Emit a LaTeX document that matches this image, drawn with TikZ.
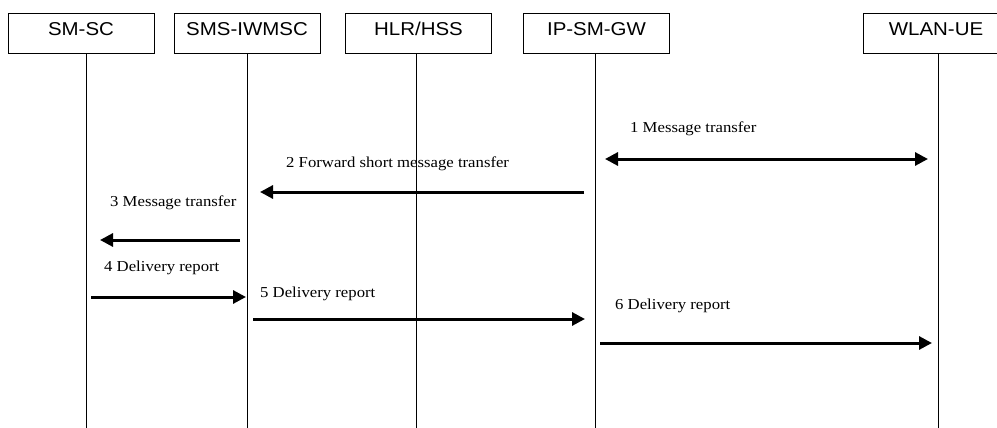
\documentclass[tikz,border=0pt]{standalone}
\usepackage{fontspec}
\newfontfamily\boxfont[FakeStretch=1.1]{Liberation Sans}
\newfontfamily\msgfont[FakeStretch=1.1]{Liberation Serif}
\usetikzlibrary{arrows.meta}

\begin{document}
\begin{tikzpicture}[x=1pt, y=-1pt, >={Triangle[length=13pt,width=13pt]},
        entity/.style={draw, line width=1pt, minimum width=146pt, minimum height=40pt, inner sep=0pt,
            text height=13.5pt, text depth=9.5pt, font=\boxfont\fontsize{18.6}{20}\selectfont},
        life/.style={line width=1pt},
        msg/.style={line width=3pt},
        note/.style={anchor=base west, inner sep=0pt, font=\msgfont\fontsize{15.2}{17}\selectfont}]
        \useasboundingbox (0,0) rectangle (997,428);

        \node[entity] (smsc) at (81,34) {SM-SC};
        \node[entity] (iwmsc) at (247,34) {SMS-IWMSC};
        \node[entity] (hlr) at (418.5,34) {HLR/HSS};
        \node[entity] (gw) at (596.5,34) {IP-SM-GW};
        \node[entity] (ue) at (936,34) {WLAN-UE};

        \coordinate (smsc-end) at (86,428);
        \coordinate (iwmsc-end) at (247,428);
        \coordinate (hlr-end) at (416,428);
        \coordinate (gw-end) at (595,428);
        \coordinate (ue-end) at (938,428);
        \draw[life] (smsc.south -| smsc-end) -- (smsc-end);
        \draw[life] (iwmsc.south -| iwmsc-end) -- (iwmsc-end);
        \draw[life] (hlr.south -| hlr-end) -- (hlr-end);
        \draw[life] (gw.south -| gw-end) -- (gw-end);
        \draw[life] (ue.south -| ue-end) -- (ue-end);

        \coordinate (m1a) at (605,159);
        \coordinate (m1b) at (928,159);
        \coordinate (m2a) at (584,192);
        \coordinate (m2b) at (260,192);
        \coordinate (m3a) at (240,240);
        \coordinate (m3b) at (100,240);
        \coordinate (m4a) at (91,297);
        \coordinate (m4b) at (246,297);
        \coordinate (m5a) at (253,319);
        \coordinate (m5b) at (585,319);
        \coordinate (m6a) at (600,343);
        \coordinate (m6b) at (932,343);

        \node[note] (t1) at (630,132) {1 Message transfer};
        \node[note] (t2) at (286,167) {2 Forward short message transfer};
        \node[note] (t3) at (110,206) {3 Message transfer};
        \node[note] (t4) at (104,271) {4 Delivery report};
        \node[note] (t5) at (260,297) {5 Delivery report};
        \node[note] (t6) at (615,309) {6 Delivery report};

        \draw[msg, <->] (m1a) -- (m1b);
        \draw[msg, ->] (m2a) -- (m2b);
        \draw[msg, ->] (m3a) -- (m3b);
        \draw[msg, ->] (m4a) -- (m4b);
        \draw[msg, ->] (m5a) -- (m5b);
        \draw[msg, ->] (m6a) -- (m6b);
    \end{tikzpicture}
\end{document}
